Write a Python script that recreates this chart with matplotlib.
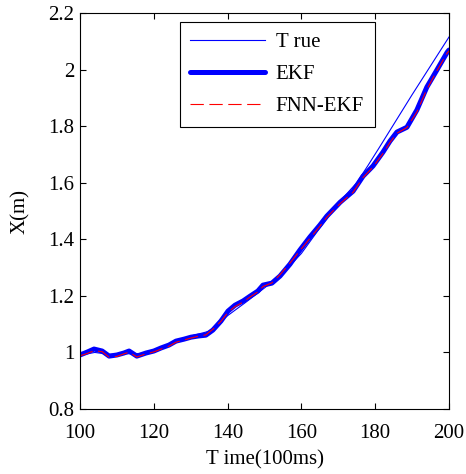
import numpy as np
import matplotlib
matplotlib.use("Agg")
import matplotlib.pyplot as plt

plt.rcParams['font.family'] = ['Liberation Serif', 'DejaVu Serif']

# time axis (100ms steps) for the filter outputs
t_est = [100, 101.9, 103.8, 106, 107.9, 110, 111.9, 113.3, 115.4, 117.9, 120, 122,
         124.1, 126, 128.2, 130.1, 132, 134.1, 136, 138.2, 140.1, 142, 144.2, 146.1,
         148.2, 149.6, 152, 154.2, 156.9, 159.6, 162.3, 165, 166.9, 170.5, 174,
         176.7, 179.4, 182.1, 184, 185.9, 188.6, 191.3, 194, 196.7, 199.5, 200]

ekf = [0.991, 1.001, 1.012, 1.005, 0.987, 0.991, 0.998, 1.005, 0.987, 0.998, 1.005, 1.016,
       1.026, 1.040, 1.047, 1.054, 1.058, 1.061, 1.079, 1.111, 1.146, 1.167, 1.182, 1.199,
       1.217, 1.238, 1.245, 1.270, 1.312, 1.362, 1.408, 1.450, 1.482, 1.531, 1.570,
       1.623, 1.659, 1.708, 1.747, 1.779, 1.796, 1.857, 1.938, 1.998, 2.061, 2.069]

fnn_ekf = [0.988, 0.996, 1.006, 1.003, 0.983, 0.986, 0.995, 1.001, 0.984, 0.995, 1.002, 1.012,
           1.022, 1.036, 1.044, 1.051, 1.057, 1.062, 1.082, 1.110, 1.142, 1.162, 1.178, 1.196,
           1.214, 1.233, 1.246, 1.275, 1.316, 1.360, 1.403, 1.446, 1.478, 1.526, 1.566,
           1.618, 1.655, 1.703, 1.742, 1.775, 1.795, 1.850, 1.930, 1.995, 2.058, 2.066]

t_true = [100, 104, 108, 112, 116, 120, 125, 130, 135, 140, 145, 150, 155, 160,
          165, 170, 175, 178, 181, 185, 190, 195, 200]
x_true = [0.990, 1.000, 0.993, 0.995, 0.996, 1.000, 1.030, 1.058, 1.075, 1.130, 1.178,
          1.228, 1.280, 1.350, 1.440, 1.528, 1.600, 1.660, 1.722, 1.806, 1.911, 2.013, 2.115]

xticks = [100, 120, 140, 160, 180, 200]
yticks = [0.8, 1.0, 1.2, 1.4, 1.6, 1.8, 2.0, 2.2]
ytick_labels = ['0.8', '1', '1.2', '1.4', '1.6', '1.8', '2', '2.2']

fig = plt.figure(figsize=(4.66, 4.74), dpi=100)
ax = fig.add_axes([0.1717, 0.1371, 0.7918, 0.8355])

ax.plot(t_true, x_true, color='#0000ff', lw=0.8, label='T rue')
ax.plot(t_est, ekf, color='#0000ff', lw=3.6, solid_capstyle='round', label='EKF')
ax.plot(t_est, fnn_ekf, color='#ff0000', lw=0.8, dashes=(12, 5), label='FNN-EKF')

ax.set_xlim(100, 200)
ax.set_ylim(0.8, 2.2)
ax.set_xticks(xticks)
ax.set_yticks(yticks)
ax.set_yticklabels(ytick_labels)
ax.tick_params(direction='in', length=4, width=0.8, labelsize=15,
               top=True, right=True, pad=4)
ax.tick_params(axis='x', pad=11)
for s in ax.spines.values():
    s.set_linewidth(0.8)

ax.set_xlabel('T ime(100ms)', fontsize=15, labelpad=5)
ax.set_ylabel('X(m)', fontsize=15, labelpad=13)

leg = ax.legend(loc='upper left', bbox_to_anchor=(0.271, 0.977), borderaxespad=0,
                fontsize=15, handlelength=3.6, handletextpad=0.5, labelspacing=0.6,
                borderpad=0.5, fancybox=False, framealpha=1, edgecolor='black')
leg.get_frame().set_linewidth(0.8)

fig.savefig('out.png', dpi=100)
